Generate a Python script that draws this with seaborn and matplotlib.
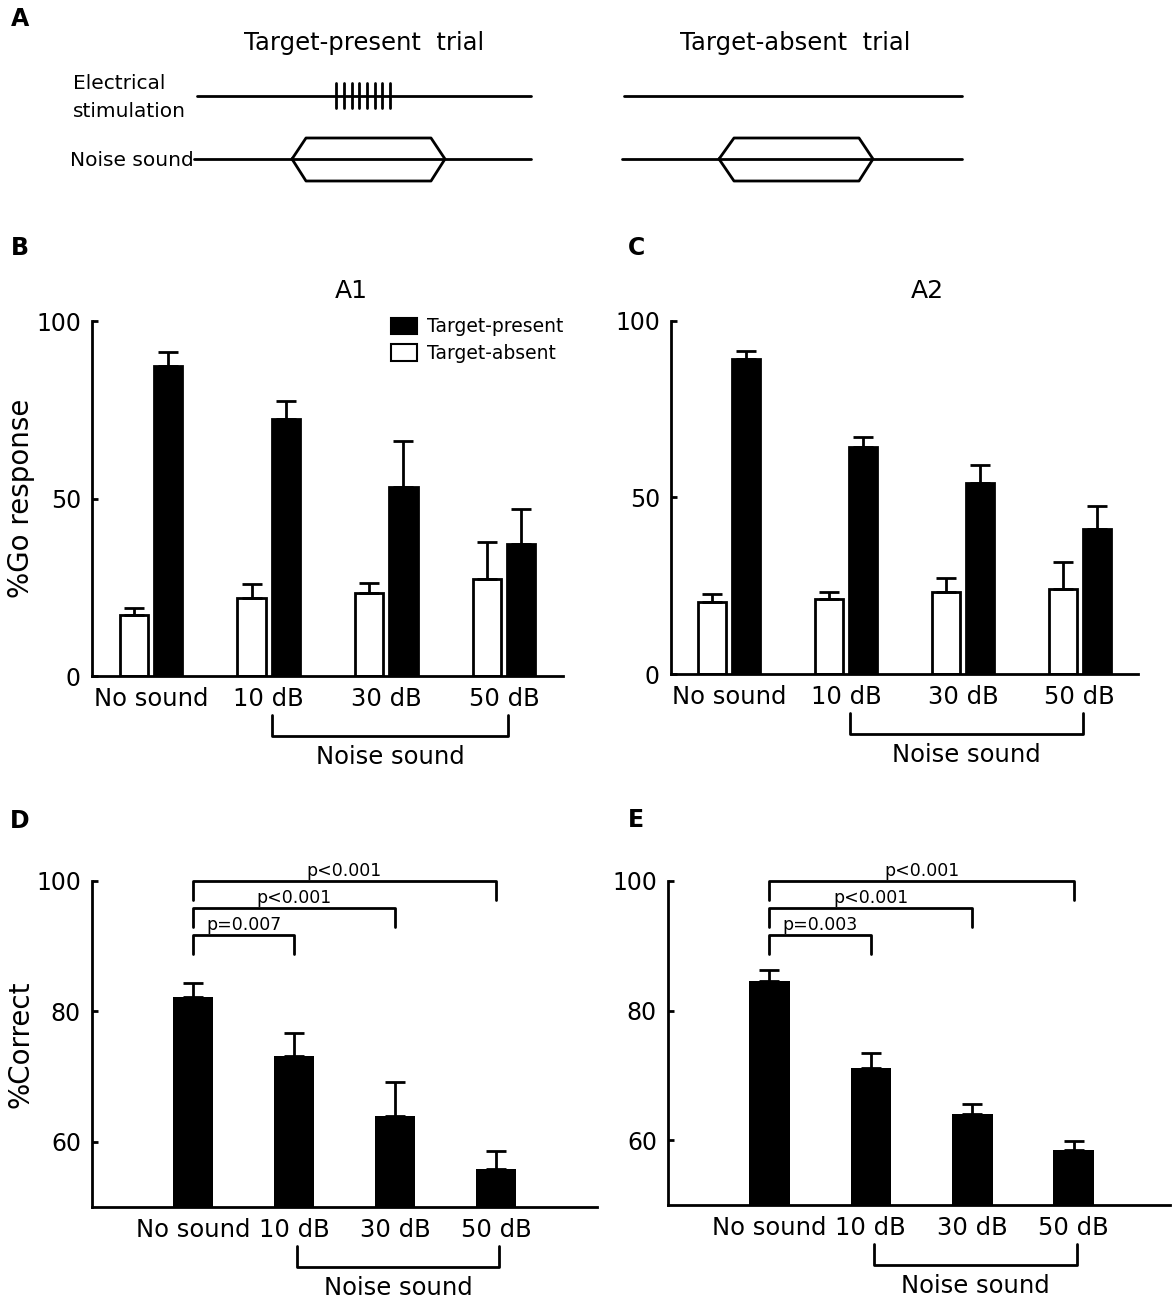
import pandas as pd
import matplotlib
matplotlib.use("Agg")
from matplotlib import pyplot as plt
import matplotlib.transforms as mtransforms
from matplotlib.patches import Patch
import seaborn as sns

conditions = ["No sound", "10 dB", "30 dB", "50 dB"]
trial_types = ["Target-absent", "Target-present"]
trial_colors = {"Target-absent": "white", "Target-present": "black"}

# B: A1, %Go response (mean, upward error)
a1_absent = [17.3, 22.1, 23.3, 27.2]
a1_absent_err = [1.8, 3.9, 2.9, 10.6]
a1_present = [87.3, 72.3, 53.2, 37.2]
a1_present_err = [3.9, 5.1, 13.0, 9.8]

# C: A2, %Go response
a2_absent = [20.3, 21.3, 23.2, 24.2]
a2_absent_err = [2.4, 1.8, 4.1, 7.5]
a2_present = [89.3, 64.3, 54.1, 41.2]
a2_present_err = [2.2, 2.9, 5.2, 6.3]

# D / E: %Correct
a1_correct = [82.2, 73.1, 64.0, 55.9]
a1_correct_err = [2.1, 3.6, 5.2, 2.7]
a2_correct = [84.6, 71.1, 64.1, 58.5]
a2_correct_err = [1.6, 2.3, 1.5, 1.3]

a1_pvalues = ["p=0.007", "p<0.001", "p<0.001"]
a2_pvalues = ["p=0.003", "p<0.001", "p<0.001"]

W, H = 1175, 1300
sns.set_style("ticks")
plt.rcParams["font.family"] = ["DejaVu Sans"]
plt.rcParams["axes.linewidth"] = 2
for key in ["text.color", "axes.labelcolor", "xtick.color", "ytick.color", "axes.edgecolor"]:
    plt.rcParams[key] = "black"

LW = 2.0
fig = plt.figure(figsize=(W / 100, H / 100), dpi=100)


def px_axes(left, top, right, bottom):
    return fig.add_axes([left / W, 1 - bottom / H, (right - left) / W, (bottom - top) / H])


def style_axes(ax):
    sns.despine(ax=ax)
    ax.tick_params(axis="y", direction="in", length=4, width=LW, labelsize=17, pad=8)
    ax.tick_params(axis="x", length=0, labelsize=17.5, pad=8)
    ax.set_xlabel("")


def noise_bracket(ax):
    h = ax.get_position().height * H
    tr = mtransforms.blended_transform_factory(ax.transData, ax.transAxes)
    y0, y1 = -39 / h, -60 / h
    x0, x1 = 1.03, 3.03
    ax.plot([x0, x0, x1, x1], [y0, y1, y1, y0], color="black", lw=LW,
            transform=tr, clip_on=False)
    ax.text((x0 + x1) / 2, -81 / h, "Noise sound", transform=tr, ha="center",
            va="center", fontsize=17.5)


def go_panel(ax, absent, absent_err, present, present_err, title):
    df = pd.DataFrame({
        "condition": conditions * 2,
        "trial": ["Target-absent"] * 4 + ["Target-present"] * 4,
        "value": absent + present,
    })
    errs = dict(zip(zip(df["trial"], df["condition"]), absent_err + present_err))
    sns.barplot(data=df, x="condition", y="value", hue="trial", order=conditions,
                hue_order=trial_types, palette=trial_colors, saturation=1,
                edgecolor="black", linewidth=LW, width=0.58, gap=0.17,
                errorbar=None, legend=False, ax=ax)
    for container, trial in zip(ax.containers, trial_types):
        xs, ys, es = [], [], []
        for bar in container:
            xc = bar.get_x() + bar.get_width() / 2
            xs.append(xc)
            ys.append(bar.get_height())
            es.append(errs[(trial, conditions[int(round(xc))])])
        ax.errorbar(xs, ys, yerr=[[0] * len(es), es], fmt="none", ecolor="black",
                    elinewidth=LW, capsize=7.5, capthick=LW, zorder=1)
    ax.set_ylim(0, 100)
    ax.set_yticks([0, 50, 100])
    ax.set_xlim(-0.5, 3.5)
    ax.text(0.55, 1.085, title, transform=ax.transAxes, ha="center", va="center",
            fontsize=18)
    style_axes(ax)
    ax.set_ylabel("")
    noise_bracket(ax)


def correct_panel(ax, values, errors, pvalues, xmax):
    sns.barplot(x=conditions, y=values, color="black", saturation=1, width=0.4,
                linewidth=0, errorbar=None, ax=ax)
    bars = list(ax.containers[0])
    xs = [b.get_x() + b.get_width() / 2 for b in bars]
    ax.errorbar(xs, values, yerr=[[0] * 4, errors], fmt="none", ecolor="black",
                elinewidth=LW, capsize=7.5, capthick=LW, zorder=1)
    ax.set_ylim(50, 100)
    ax.set_yticks([60, 80, 100])
    ax.set_xlim(-1, xmax)
    style_axes(ax)
    ax.set_ylabel("")
    # significance brackets: No sound vs each noise level
    for k, (target, level) in enumerate(zip([1, 2, 3], [91.7, 95.8, 100.0])):
        x0, x1 = xs[0], xs[target]
        ax.plot([x0, x0, x1, x1], [level - 2.9, level, level, level - 2.9],
                color="black", lw=LW, clip_on=False)
        ax.text((x0 + x1) / 2, level + 0.15, pvalues[k], ha="center", va="bottom",
                fontsize=12.5)
    noise_bracket(ax)


# ---- panel A: schematic ----
axA = fig.add_axes([0, 1 - 200 / H, 1, 200 / H])
axA.set_xlim(0, W)
axA.set_ylim(200, 0)
axA.axis("off")

stim_present = [197, 531]
stim_absent = [624, 962]
pulse_x = [336, 344, 352, 359, 367, 375, 382, 390]
noise_present = [194, 531]
noise_absent = [622, 962]
hex_present = [292, 306, 431, 445]
hex_absent = [719, 734, 859, 873]
stim_y, noise_y = 96, 159

axA.plot(stim_present, [stim_y, stim_y], color="black", lw=LW)
axA.plot(stim_absent, [stim_y, stim_y], color="black", lw=LW)
for px in pulse_x:
    axA.plot([px, px], [83, 108], color="black", lw=LW)
for xs_line, hx in [(noise_present, hex_present), (noise_absent, hex_absent)]:
    axA.plot(xs_line, [noise_y, noise_y], color="black", lw=LW)
    axA.plot([hx[0], hx[1], hx[2], hx[3], hx[2], hx[1], hx[0]],
             [noise_y, 138, 138, noise_y, 181, 181, noise_y], color="black", lw=LW)
axA.text(364, 50, "Target-present  trial", ha="center", va="baseline", fontsize=17.5)
axA.text(795, 50, "Target-absent  trial", ha="center", va="baseline", fontsize=17.5)
axA.text(73, 89, "Electrical", ha="left", va="baseline", fontsize=14.5)
axA.text(73, 117, "stimulation", ha="left", va="baseline", fontsize=14.5)
axA.text(194, 166, "Noise sound", ha="right", va="baseline", fontsize=14.5)

# ---- panels B and C ----
axB = px_axes(92, 321, 563, 676)
go_panel(axB, a1_absent, a1_absent_err, a1_present, a1_present_err, "A1")
axB.set_ylabel("%Go response", fontsize=20, labelpad=1)
axB.legend(handles=[Patch(facecolor="black", edgecolor="black", lw=1.5),
                    Patch(facecolor="white", edgecolor="black", lw=1.5)],
           labels=["Target-present", "Target-absent"], loc="upper left",
           bbox_to_anchor=(0.635, 1.01), frameon=False, fontsize=13.5,
           handlelength=1.4, handleheight=0.95, handletextpad=0.5,
           labelspacing=0.4, borderpad=0, borderaxespad=0)

axC = px_axes(671, 321, 1138, 674)
go_panel(axC, a2_absent, a2_absent_err, a2_present, a2_present_err, "A2")

# ---- panels D and E ----
axD = px_axes(92, 881, 597, 1207)
correct_panel(axD, a1_correct, a1_correct_err, a1_pvalues, 4.0)
axD.set_ylabel("%Correct", fontsize=20, labelpad=1)

axE = px_axes(668, 881, 1170, 1205)
correct_panel(axE, a2_correct, a2_correct_err, a2_pvalues, 3.95)

for letter, (x, y) in zip("ABCDE", [(20, 19), (20, 248), (636, 248), (20, 821), (636, 820)]):
    fig.text(x / W, 1 - y / H, letter, ha="center", va="center", fontsize=17,
             fontweight="bold")

fig.savefig("out.png", dpi=100)
